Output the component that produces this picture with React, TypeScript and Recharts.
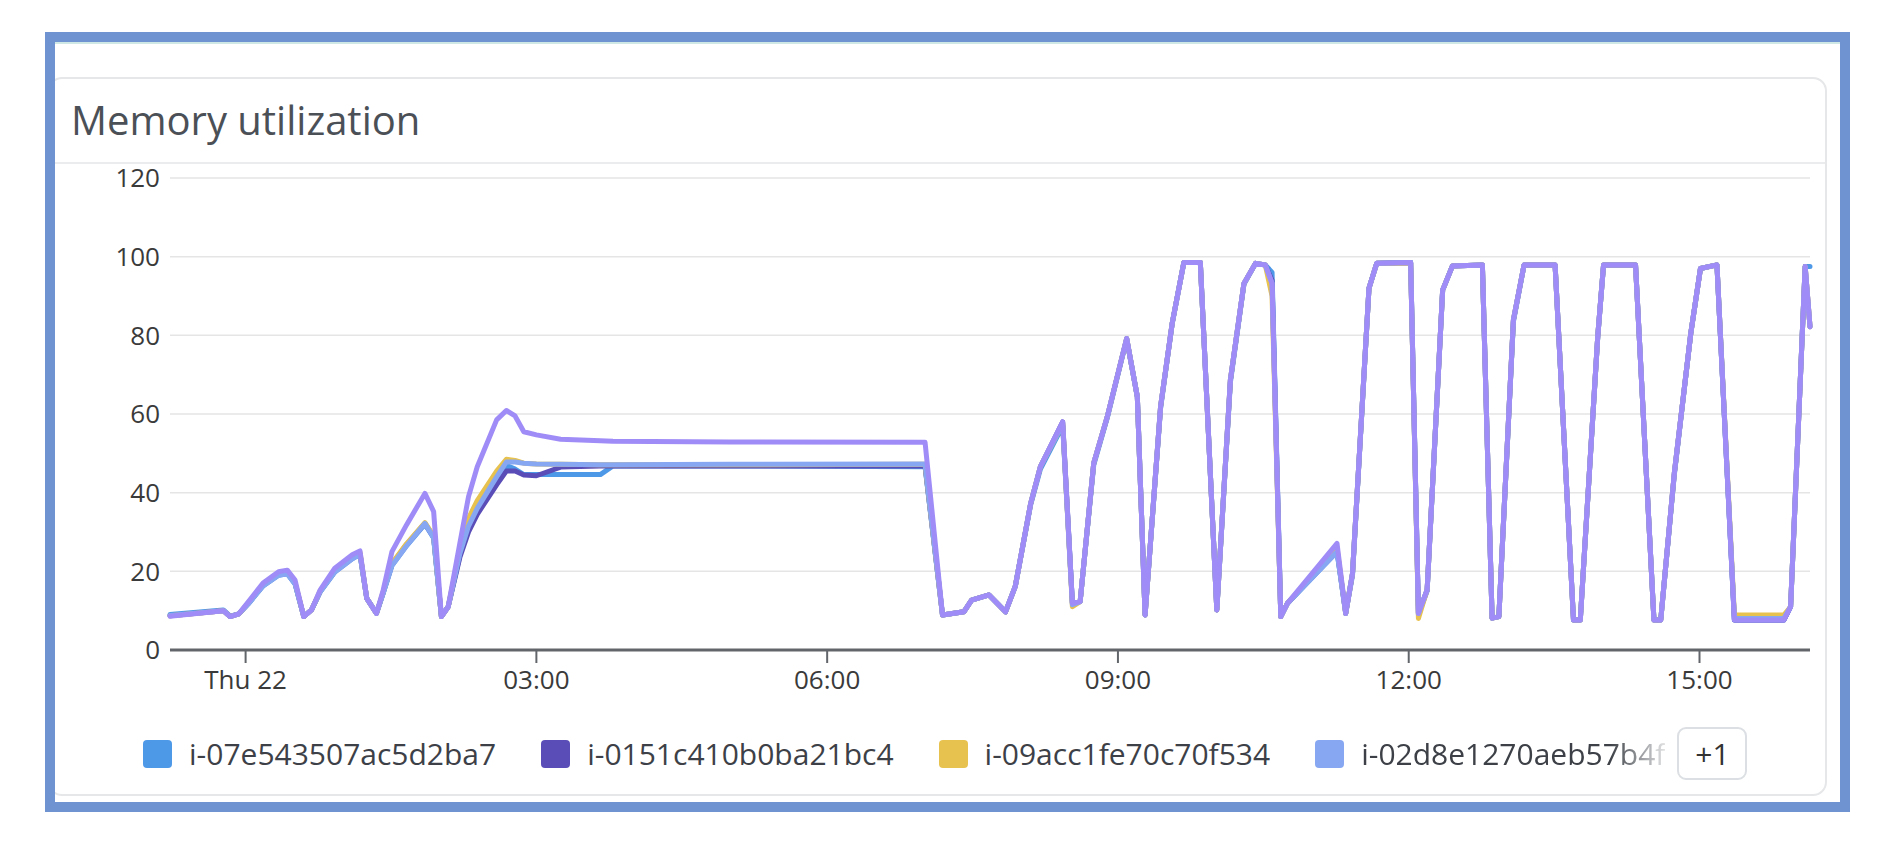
import React from 'react';
import { LineChart, Line, XAxis, YAxis, CartesianGrid } from 'recharts';

// hours relative to Thu 22 00:00
const hours = [-0.78, -0.23, -0.16, -0.07, 0.03, 0.18, 0.34, 0.43, 0.51, 0.6, 0.68, 0.77, 0.92, 1.1, 1.18, 1.25, 1.35, 1.42, 1.51, 1.66, 1.85, 1.94, 2.02, 2.09, 2.21, 2.3, 2.39, 2.59, 2.69, 2.78, 2.87, 3.0, 3.25, 3.66, 3.79, 5.0, 7.01,
  7.19, 7.41, 7.49, 7.67, 7.84, 7.94, 8.1, 8.2, 8.43, 8.53, 8.61, 8.75, 8.89, 9.09, 9.2, 9.28, 9.44, 9.56, 9.68, 9.85, 10.02, 10.16, 10.3, 10.42, 10.52, 10.59, 10.68, 10.75, 11.26, 11.35, 11.42, 11.59, 11.67, 12.02, 12.1, 12.19, 12.35, 12.45, 12.76, 12.86, 12.93, 13.08, 13.19, 13.51, 13.7, 13.77, 13.95, 14.01, 14.34, 14.53, 14.6, 14.74, 14.91, 15.01, 15.18, 15.36, 15.87, 15.94, 16.09, 16.14];

const blueValues = [9.0, 10.2, 8.6, 9.2, 11.8, 16.3, 19.0, 19.4, 16.8, 8.5, 10.2, 14.8, 19.8, 23.2, 24.3, 13.1, 9.3, 14.5, 21.5, 26.5, 32.0, 28.5, 8.5, 11.0, 24.0, 31.0, 35.5, 43.5, 47.0, 46.0, 44.6, 44.6, 44.6, 44.6, 46.8, 46.8, 46.6,
  8.9, 9.7, 12.7, 14.0, 9.7, 16.1, 37.0, 46.0, 57.0, 11.9, 12.3, 47.0, 59.0, 79.0, 64.4, 8.9, 61.5, 83.0, 98.5, 98.5, 10.2, 68.0, 93.0, 98.3, 97.9, 96.0, 8.5, 11.9, 25.0, 9.3, 19.0, 92.0, 98.3, 98.5, 9.0, 15.0, 91.5, 97.6, 97.9, 8.1, 8.5, 83.5, 97.9, 97.9, 7.6, 7.6, 79.5, 97.9, 97.9, 7.6, 7.6, 44.5, 80.5, 97.0, 97.9, 7.6, 7.6, 11.0, 97.5, 97.5];

const darkValues = [8.7, 10.0, 8.5, 9.2, 11.9, 16.5, 19.2, 19.6, 17.0, 8.5, 10.2, 14.9, 20.0, 23.4, 24.5, 13.1, 9.3, 14.6, 21.8, 26.8, 32.2, 28.7, 8.5, 11.0, 23.5, 30.0, 34.5, 42.0, 45.5, 45.5, 44.5, 44.3, 46.5, 46.8, 46.8, 46.8, 46.8,
  8.9, 9.7, 12.7, 14.0, 9.7, 16.1, 37.3, 46.6, 58.0, 11.9, 12.3, 47.5, 59.3, 79.2, 64.4, 8.9, 61.9, 83.1, 98.5, 98.5, 10.2, 68.6, 93.2, 98.3, 97.9, 94.0, 8.5, 11.9, 25.5, 9.3, 19.5, 92.0, 98.3, 98.5, 9.3, 15.3, 91.5, 97.6, 97.9, 8.1, 8.5, 83.9, 97.9, 97.9, 7.6, 7.6, 79.7, 97.9, 97.9, 7.6, 7.6, 44.9, 80.5, 97.0, 97.9, 7.6, 7.6, 11.0, 97.5, 82.2];

const yellowValues = [8.7, 10.0, 8.5, 9.2, 12.0, 16.6, 19.4, 19.8, 17.2, 8.5, 10.2, 15.0, 20.3, 23.7, 24.8, 13.1, 9.3, 14.8, 22.0, 27.0, 32.4, 29.0, 8.5, 11.0, 25.5, 33.5, 38.0, 45.5, 48.5, 48.2, 47.5, 47.3, 47.2, 47.1, 47.1, 47.1, 47.2,
  8.9, 9.7, 12.7, 14.0, 9.7, 16.1, 37.3, 46.6, 57.5, 11.0, 12.3, 47.5, 59.3, 79.2, 64.4, 8.9, 61.9, 83.1, 98.5, 98.5, 10.2, 68.6, 93.2, 98.3, 97.9, 90.0, 8.5, 11.9, 26.0, 9.3, 19.5, 92.0, 98.3, 98.3, 8.0, 15.3, 91.5, 97.6, 97.9, 8.1, 8.5, 83.9, 97.9, 97.9, 7.6, 7.6, 79.7, 97.9, 97.9, 7.6, 7.6, 44.9, 80.5, 97.0, 97.9, 8.9, 8.9, 11.0, 97.5, 82.2];

const lightBlueValues = [8.8, 10.0, 8.5, 9.2, 11.8, 16.3, 19.0, 19.4, 16.8, 8.5, 10.2, 14.8, 19.8, 23.2, 24.3, 13.1, 9.3, 14.5, 21.5, 26.5, 32.2, 28.5, 8.5, 11.0, 24.5, 31.5, 36.0, 44.0, 47.8, 47.8, 47.5, 47.3, 47.2, 47.1, 47.1, 47.2, 47.3,
  8.9, 9.7, 12.7, 14.0, 9.7, 16.1, 37.3, 46.6, 57.5, 11.5, 12.3, 47.5, 59.3, 79.2, 64.4, 8.9, 61.9, 83.1, 98.5, 98.5, 10.2, 68.6, 93.2, 98.3, 97.9, 93.2, 8.5, 11.9, 25.0, 9.3, 19.5, 92.0, 98.3, 98.5, 9.3, 15.3, 91.5, 97.6, 97.9, 8.1, 8.5, 83.9, 97.9, 97.9, 7.6, 7.6, 79.7, 97.9, 97.9, 7.6, 7.6, 44.9, 80.5, 97.0, 97.9, 8.0, 8.0, 11.0, 97.5, 82.2];

const purpleValues = [8.6, 10.0, 8.5, 9.2, 12.3, 17.0, 19.9, 20.3, 17.8, 8.5, 10.2, 15.3, 20.8, 24.2, 25.2, 13.1, 9.3, 15.3, 25.0, 31.8, 39.8, 35.2, 8.5, 11.0, 27.1, 39.0, 46.6, 58.5, 60.9, 59.5, 55.5, 54.7, 53.6, 53.2, 53.1, 52.9, 52.8,
  8.9, 9.7, 12.7, 14.0, 9.7, 16.1, 37.3, 46.6, 58.0, 11.9, 12.3, 47.5, 59.3, 79.2, 64.4, 8.9, 61.9, 83.1, 98.5, 98.5, 10.2, 68.6, 93.2, 98.3, 97.9, 93.2, 8.5, 11.9, 27.1, 9.3, 19.5, 92.0, 98.3, 98.5, 9.3, 15.3, 91.5, 97.6, 97.9, 8.1, 8.5, 83.9, 97.9, 97.9, 7.6, 7.6, 79.7, 97.9, 97.9, 7.6, 7.6, 44.9, 80.5, 97.0, 97.9, 7.6, 7.6, 11.0, 97.5, 82.2];

const seriesNames = ['i-07e543507ac5d2ba7', 'i-0151c410b0ba21bc4', 'i-09acc1fe70c70f534', 'i-02d8e1270aeb57b4f', 'hidden instance'];
const seriesColors = ['#4e98e8', '#5a4db8', '#e8c24e', '#87a7f2', '#a08cf7'];
const seriesValues = [blueValues, darkValues, yellowValues, lightBlueValues, purpleValues];
const visibleLegendCount = 4;

const xTicks = [0, 3, 6, 9, 12, 15];
const xTickLabels = ['Thu 22', '03:00', '06:00', '09:00', '12:00', '15:00'];
const yTicks = [0, 20, 40, 60, 80, 100, 120];

const FONT = '"Open Sans", "Noto Sans", sans-serif';

export default function App() {
  const data = hours.map((h, i) => {
    const row: Record<string, number> = { h };
    seriesValues.forEach((vals, s) => {
      row['s' + s] = vals[i];
    });
    return row;
  });

  const hiddenCount = seriesNames.length - visibleLegendCount;

  return (
    <div style={{ position: 'fixed', left: 0, top: 0, width: 1884, height: 846, background: '#ffffff', overflow: 'hidden', fontFamily: FONT }}>
      {/* card */}
      <div style={{ position: 'absolute', left: 48, top: 77, width: 1779, height: 719, border: '2px solid #e6e7e9', borderRadius: 14, boxSizing: 'border-box' }} />
      {/* header separator */}
      <div style={{ position: 'absolute', left: 50, top: 162, width: 1775, height: 2, background: '#ebecee' }} />
      {/* title */}
      <div style={{ position: 'absolute', left: 71, top: 100, fontSize: 40, lineHeight: '40px', color: '#4b5057', whiteSpace: 'nowrap' }}>Memory utilization</div>

      <div style={{ position: 'absolute', left: 0, top: 0 }}>
        <LineChart width={1884} height={846} data={data} margin={{ top: 178, right: 74, bottom: 156, left: 110 }}>
          <CartesianGrid vertical={false} stroke="#e5e5e5" strokeWidth={1.5} />
          <XAxis
            dataKey="h"
            type="number"
            domain={[-0.78, 16.14]}
            ticks={xTicks}
            interval={0}
            height={40}
            tickFormatter={(v: number) => xTickLabels[xTicks.indexOf(v)] ?? ''}
            axisLine={{ stroke: '#62666b', strokeWidth: 3 }}
            tickLine={{ stroke: '#62666b', strokeWidth: 2 }}
            tickSize={13}
            tickMargin={8}
            tick={{ fontSize: 26, fill: '#3a3a3a', fontFamily: FONT }}
          />
          <YAxis
            type="number"
            domain={[0, 120]}
            ticks={yTicks}
            interval={0}
            width={60}
            axisLine={false}
            tickLine={false}
            tickSize={0}
            tickMargin={10}
            tick={{ fontSize: 26, fill: '#3a3a3a', fontFamily: FONT }}
          />
          {seriesNames.map((name, s) => (
            <Line
              key={name}
              dataKey={'s' + s}
              name={name}
              type="linear"
              stroke={seriesColors[s]}
              strokeWidth={5}
              strokeLinejoin="round"
              strokeLinecap="round"
              dot={false}
              activeDot={false}
              isAnimationActive={false}
            />
          ))}
        </LineChart>
      </div>

      {/* legend */}
      <div style={{ position: 'absolute', left: 143, top: 727, height: 53, display: 'flex', alignItems: 'center' }}>
        {seriesNames.slice(0, visibleLegendCount).map((name, i) => {
          const last = i === visibleLegendCount - 1;
          return (
            <div key={name} style={{ display: 'flex', alignItems: 'center', marginRight: last ? 12 : 45 }}>
              <div style={{ width: 29, height: 28, borderRadius: 4, background: seriesColors[i], marginRight: 17, flex: 'none' }} />
              <span
                style={{
                  fontSize: 30,
                  lineHeight: '53px',
                  color: '#3d4147',
                  whiteSpace: 'nowrap',
                  overflow: 'hidden',
                  display: 'inline-block',
                  maxWidth: last ? 305 : undefined,
                  WebkitMaskImage: last ? 'linear-gradient(to right, #000 82%, rgba(0,0,0,0.15) 100%)' : undefined,
                  maskImage: last ? 'linear-gradient(to right, #000 82%, rgba(0,0,0,0.15) 100%)' : undefined,
                }}
              >
                {name}
              </span>
            </div>
          );
        })}
        <div style={{ width: 70, height: 53, boxSizing: 'border-box', border: '2px solid #dcdfe3', borderRadius: 9, display: 'flex', alignItems: 'center', justifyContent: 'center', fontSize: 30, color: '#333', flex: 'none' }}>
          +{hiddenCount}
        </div>
      </div>

      {/* outer blue frame */}
      <div style={{ position: 'absolute', left: 55, top: 42, width: 1785, height: 2, background: '#cfe8e5' }} />
      <div style={{ position: 'absolute', left: 45, top: 32, width: 1805, height: 780, border: '10px solid #6f93d0', boxSizing: 'border-box' }} />
    </div>
  );
}
